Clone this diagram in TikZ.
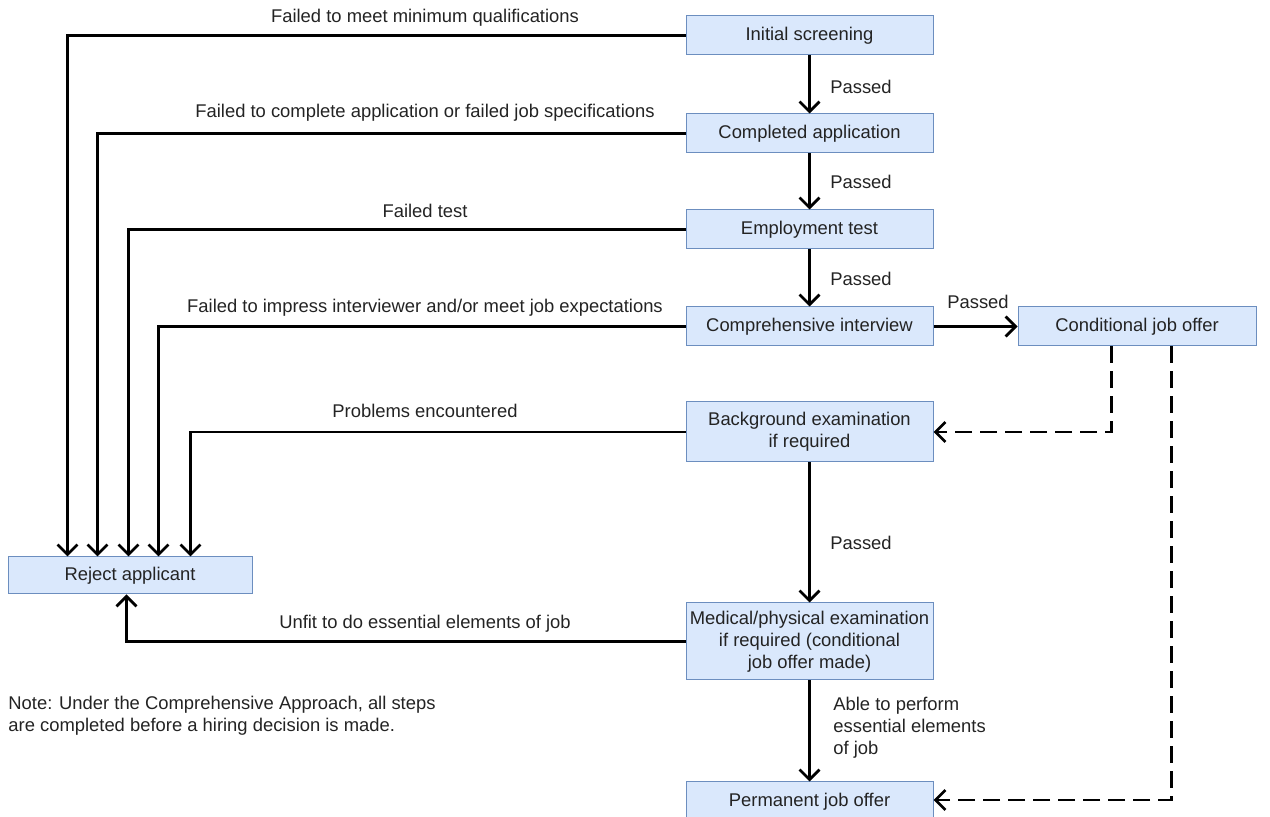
\documentclass[tikz,border=0pt]{standalone}
\usepackage{fontspec}
\setmainfont{Liberation Sans}
\usetikzlibrary{arrows.meta,calc}
\definecolor{boxfill}{RGB}{218,232,252}
\definecolor{boxline}{RGB}{108,142,191}
\definecolor{txt}{RGB}{35,35,35}
\begin{document}
\begin{tikzpicture}[x=0.5pt,y=-0.5pt,
  box/.style={draw=boxline, line width=0.5pt, fill=boxfill, minimum width=123.5pt, minimum height=19.5pt, inner sep=0pt, align=center, text=txt, font=\fontsize{9.2}{11}\selectfont},
  lbl/.style={text=txt, inner sep=0pt, font=\fontsize{9.2}{11}\selectfont},
  arr/.style={line width=1.4pt, -{Straight Barb[length=5pt,width=10pt]}},
  darr/.style={arr, dash pattern=on 8.5pt off 4pt}]
\useasboundingbox (0,0) rectangle (1270,817);
% boxes
\node[box] (init) at (809.5,35.5) {Initial screening};
\node[box] (compl) at (809.5,133.5) {Completed application};
\node[box] (empl) at (809.5,229.5) {Employment test};
\node[box] (interv) at (809.5,326.5) {Comprehensive interview};
\node[box, minimum width=119pt] (cond) at (1137,326.5) {Conditional job offer};
\node[box, minimum height=30pt] (backg) at (809.5,432) {Background examination\\if required};
\node[box, minimum height=38.5pt] (medic) at (809.5,641.5) {Medical/physical examination\\if required (conditional\\job offer made)};
\node[box] (perm) at (809.5,801.5) {Permanent job offer};
\node[box, minimum width=122pt, minimum height=18.5pt] (reject) at (130,575.5) {Reject applicant};
% pass arrows
\draw[arr] (init) -- (compl);
\draw[arr] (compl) -- (empl);
\draw[arr] (empl) -- (interv);
\draw[arr] (interv) -- (cond);
\draw[arr] (backg) -- (medic);
\draw[arr] (medic) -- (perm);
\node[lbl] (p1) at (861,87) {Passed};
\node[lbl] (p2) at (861,182) {Passed};
\node[lbl] (p3) at (861,279) {Passed};
\node[lbl] (p4) at (978,302) {Passed};
\node[lbl] (p5) at (861,543) {Passed};
\node[lbl, anchor=west, align=left] (able) at (833,728) {Able to perform\\essential elements\\of job};
% reject arrows
\draw[arr] (init.west) -| ($(reject.north west)+(60,0)$);
\draw[arr] (compl.west) -| ($(reject.north west)+(90,0)$);
\draw[arr] (empl.west) -| ($(reject.north west)+(121,0)$);
\draw[arr] (interv.west) -| ($(reject.north west)+(151,0)$);
\draw[arr] (backg.west) -| ($(reject.north west)+(183,0)$);
\draw[arr] (medic.west) -| ($(reject.south west)+(119,0)$);
\node[lbl] (f1) at (425,18) {Failed to meet minimum qualifications};
\node[lbl] (f2) at (425,113) {Failed to complete application or failed job specifications};
\node[lbl] (f3) at (425,211) {Failed test};
\node[lbl] (f4) at (425,308) {Failed to impress interviewer and/or meet job expectations};
\node[lbl] (f5) at (425,411) {Problems encountered};
\node[lbl] (f6) at (425,624) {Unfit to do essential elements of job};
% dashed
\draw[darr] ($(cond.south west)+(94,0)$) |- (backg.east);
\draw[darr] ($(cond.south west)+(154,0)$) |- ($(perm.east)+(0,-1.5)$);
% note
\node[lbl, anchor=west, align=left] (note) at (8,716) {Note: Under the Comprehensive Approach, all steps\\are completed before a hiring decision is made.};
\end{tikzpicture}
\end{document}
